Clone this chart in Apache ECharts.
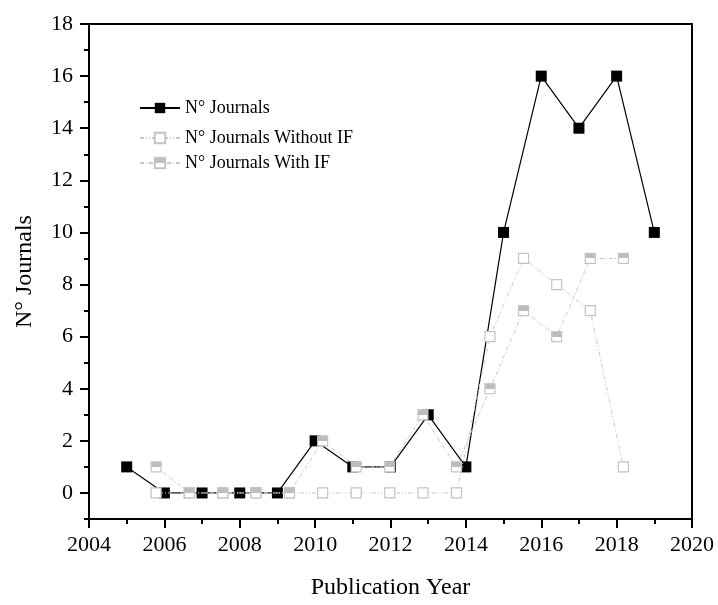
<!DOCTYPE html>
<html>
<head>
<meta charset="utf-8">
<script src="https://cdn.jsdelivr.net/npm/echarts@6/dist/echarts.min.js"></script>
<style>html,body{margin:0;padding:0;background:#fff}#c{width:718px;height:605px}</style>
</head>
<body>
<div id="c"></div>
<script>
// Data
const years = [2005, 2006, 2007, 2008, 2009, 2010, 2011, 2012, 2013, 2014, 2015, 2016, 2017, 2018, 2019];
const journals = [1, 0, 0, 0, 0, 2, 1, 1, 3, 1, 10, 16, 14, 16, 10];
// the two split series are drawn at shifted x positions in the original figure
const splitX = [2005.78, 2006.66, 2007.55, 2008.43, 2009.32, 2010.2, 2011.09, 2011.98, 2012.86, 2013.75, 2014.64, 2015.53, 2016.41, 2017.3, 2018.18];
const withoutIF = [0, 0, 0, 0, 0, 0, 0, 0, 0, 0, 6, 9, 8, 7, 1];
const withIF = [1, 0, 0, 0, 0, 2, 1, 1, 3, 1, 4, 7, 6, 9, 9];
const yMajorTicks = [0, 2, 4, 6, 8, 10, 12, 14, 16, 18];
const yMinorTicks = [-1, 1, 3, 5, 7, 9, 11, 13, 15, 17];

const FONT = "'Liberation Serif', 'Times New Roman', serif";
const pair = (xs, ys) => xs.map((x, i) => [x, ys[i]]);
const halfFill = {
  type: 'linear', x: 0, y: 0, x2: 0, y2: 1,
  colorStops: [
    {offset: 0, color: '#bdbdbd'}, {offset: 0.5, color: '#bdbdbd'},
    {offset: 0.5, color: '#ffffff'}, {offset: 1, color: '#ffffff'}
  ]
};

const chart = echarts.init(document.getElementById('c'), null, {renderer: 'canvas'});
chart.setOption({
  animation: false,
  backgroundColor: '#fff',
  grid: {left: 89, right: 26, top: 24, bottom: 82, show: true, borderColor: '#000', borderWidth: 2},
  legend: [
    {
      data: ['N° Journals'], orient: 'vertical', left: 134, top: 94,
      itemWidth: 40, itemHeight: 13, itemGap: 7,
      textStyle: {fontFamily: FONT, fontSize: 18, color: '#000'}
    },
    {
      data: ['N° Journals Without IF', 'N° Journals With IF'], orient: 'vertical', left: 134, top: 124,
      itemWidth: 40, itemHeight: 13, itemGap: 7,
      textStyle: {fontFamily: FONT, fontSize: 18, color: '#000'}
    }
  ],
  xAxis: {
    type: 'value', min: 2004, max: 2020, interval: 2,
    name: 'Publication Year', nameLocation: 'middle', nameGap: 57,
    nameTextStyle: {fontFamily: FONT, fontSize: 24, color: '#000'},
    axisLine: {show: true, onZero: false, lineStyle: {color: '#000', width: 2}},
    axisTick: {show: true, length: 9, lineStyle: {color: '#000', width: 2}},
    minorTick: {show: true, splitNumber: 2, length: 5, lineStyle: {color: '#000', width: 2}},
    axisLabel: {fontFamily: FONT, fontSize: 22, color: '#000', margin: 15, formatter: v => String(v)},
    splitLine: {show: false}
  },
  yAxis: [
    {
      type: 'value', min: -1, max: 18,
      name: 'N° Journals', nameLocation: 'middle', nameGap: 52,
      nameTextStyle: {fontFamily: FONT, fontSize: 24, color: '#000'},
      axisLine: {show: true, onZero: false, lineStyle: {color: '#000', width: 2}},
      axisTick: {show: true, length: 9, customValues: yMajorTicks, lineStyle: {color: '#000', width: 2}},
      axisLabel: {fontFamily: FONT, fontSize: 22, color: '#000', margin: 16, customValues: yMajorTicks},
      splitLine: {show: false}
    },
    {
      type: 'value', min: -1, max: 18, position: 'left',
      axisLine: {show: false, onZero: false},
      axisTick: {show: true, length: 5, customValues: yMinorTicks, lineStyle: {color: '#000', width: 2}},
      axisLabel: {show: false, customValues: yMinorTicks},
      splitLine: {show: false}
    }
  ],
  series: [
    {
      name: 'N° Journals', type: 'line', data: pair(years, journals), z: 2,
      symbol: 'rect', symbolSize: 11,
      lineStyle: {color: '#000', width: 1.2},
      itemStyle: {color: '#000', borderColor: '#000', borderWidth: 0}
    },
    {
      name: 'N° Journals Without IF', type: 'line', data: pair(splitX, withoutIF), z: 3,
      symbol: 'rect', symbolSize: 10,
      lineStyle: {color: '#c8c8c8', width: 1, type: [4, 2, 1, 2, 1, 2]},
      itemStyle: {color: '#ffffff', borderColor: '#c4c4c4', borderWidth: 1.2}
    },
    {
      name: 'N° Journals With IF', type: 'line', data: pair(splitX, withIF), z: 4,
      symbol: 'rect', symbolSize: 10,
      lineStyle: {color: '#c8c8c8', width: 1, type: [4, 2, 1, 2]},
      itemStyle: {color: halfFill, borderColor: '#c4c4c4', borderWidth: 1.2}
    }
  ]
});
</script>
</body>
</html>
